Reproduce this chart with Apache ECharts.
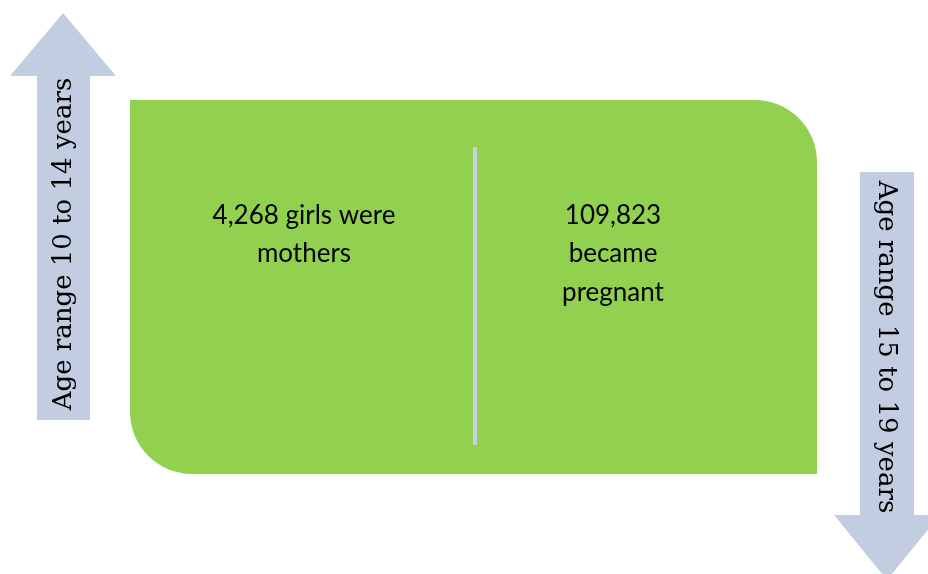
<!DOCTYPE html>
<html>
<head>
<meta charset="utf-8">
<script src="https://cdn.jsdelivr.net/npm/echarts@6/dist/echarts.min.js"></script>
<style>
  html, body { margin: 0; padding: 0; background: #fff; }
  #chart { width: 928px; height: 574px; }
</style>
</head>
<body>
<div id="chart"></div>
<script>
// age groups shown on the two arrows
var ageRanges = ['Age range 10 to 14 years', 'Age range 15 to 19 years'];
// counts in the green panel and the words that follow them
var counts = [4268, 109823];
var countLines = [
  ['{n} girls were', 'mothers'],
  ['{n}', 'became', 'pregnant']
];

var arrowColor = '#c3cde2';
var green = '#92d050';

var chart = echarts.init(document.getElementById('chart'));

function panelText(i, cx) {
  var txt = countLines[i].map(function (l) {
    return l.replace('{n}', counts[i].toLocaleString('en-US'));
  }).join('\n');
  return {
    type: 'text',
    x: cx,
    y: 196,
    style: {
      text: txt,
      fill: '#000',
      font: '26px Lato',
      lineHeight: 38.5,
      align: 'center',
      verticalAlign: 'top'
    }
  };
}

var option = {
  backgroundColor: '#fff',
  graphic: [
    // green panel
    {
      type: 'rect',
      shape: { x: 130, y: 100, width: 687, height: 374, r: [0, 62, 0, 62] },
      style: { fill: green }
    },
    // divider
    {
      type: 'line',
      shape: { x1: 475, y1: 147, x2: 475, y2: 445 },
      style: { stroke: '#c9d0de', lineWidth: 4 }
    },
    panelText(0, 304),
    panelText(1, 613),
    // up arrow
    {
      type: 'polygon',
      shape: { points: [[37, 420], [37, 76], [10, 76], [63, 13], [116, 76], [90, 76], [90, 420]] },
      style: { fill: arrowColor }
    },
    {
      type: 'text',
      x: 64,
      y: 244,
      rotation: Math.PI / 2,
      style: {
        text: ageRanges[0],
        fill: '#000',
        font: '26px "DejaVu Serif"',
        align: 'center',
        verticalAlign: 'middle'
      }
    },
    // down arrow
    {
      type: 'polygon',
      shape: { points: [[860, 172], [914, 172], [914, 515], [940, 515], [887, 580], [834, 515], [860, 515]] },
      style: { fill: arrowColor }
    },
    {
      type: 'text',
      x: 886,
      y: 347,
      rotation: -Math.PI / 2,
      style: {
        text: ageRanges[1],
        fill: '#000',
        font: '26px "DejaVu Serif"',
        align: 'center',
        verticalAlign: 'middle'
      }
    }
  ]
};

chart.setOption(option);
</script>
</body>
</html>
